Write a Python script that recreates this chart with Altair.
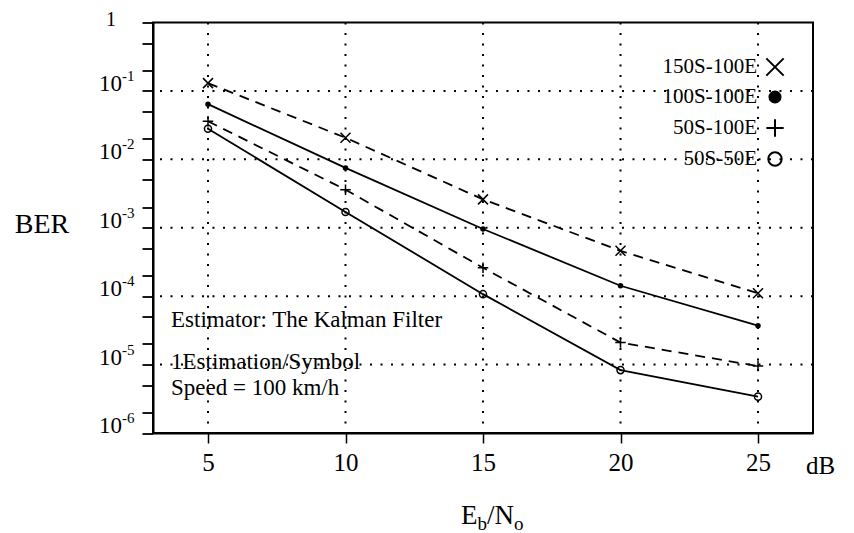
import altair as alt
import pandas as pd

# ---- data ----
snr = [5, 10, 15, 20, 25]
ber_150s_100e = [0.13, 0.0207, 0.0026, 4.6e-4, 1.1e-4]
ber_100s_100e = [0.064, 0.0075, 9.6e-4, 1.42e-4, 3.7e-5]
ber_50s_100e = [0.036, 0.0036, 2.6e-4, 2.1e-5, 9.5e-6]
ber_50s_50e = [0.028, 0.0017, 1.07e-4, 8.3e-6, 3.4e-6]

series_names = ["150S-100E", "100S-100E", "50S-100E", "50S-50E"]
x_ticks = [5, 10, 15, 20, 25]
decades = [1e-1, 1e-2, 1e-3, 1e-4, 1e-5]
y_tick_values = [1, 0.5, 0.2, 0.1, 0.05, 0.02, 0.01, 5e-3, 2e-3, 1e-3, 5e-4, 2e-4, 1e-4,
                 5e-5, 2e-5, 1e-5, 5e-6, 2e-6, 1e-6]
y_label_values = [1e-1, 1e-2, 1e-3, 1e-4, 1e-5, 1e-6]
y_label_sups = ["-1", "-2", "-3", "-4", "-5", "-6"]
annot_lines = ["Estimator: The Kalman Filter", "1Estimation/Symbol", "Speed = 100 km/h"]

FONT = "Liberation Serif"
W, H = 660, 410.5
OX, OY = 153, 22.5  # plot origin on page

rows = []
for name, vals in zip(series_names, [ber_150s_100e, ber_100s_100e, ber_50s_100e, ber_50s_50e]):
    for s, b in zip(snr, vals):
        rows.append({"series": name, "snr": s, "ber": b})
df = pd.DataFrame(rows)

xs = alt.Scale(domain=[3, 27], nice=False, zero=False)
ys = alt.Scale(type="log", domain=[1e-6, 1], nice=False)

xaxis = alt.Axis(values=x_ticks, tickSize=10, tickWidth=1.5, tickColor="black",
                 domainColor="black", domainWidth=2, labelFont=FONT, labelFontSize=25,
                 labelColor="black", labelPadding=7, grid=False, title=None)
yaxis = alt.Axis(values=y_tick_values, labels=False, tickSize=11, tickWidth=1.8,
                 tickColor="black", domainColor="black", domainWidth=2,
                 grid=False, title=None)

X = alt.X("snr:Q", scale=xs, axis=xaxis)
Y = alt.Y("ber:Q", scale=ys, axis=yaxis)

layers = []
grid_style = dict(color="black", strokeDash=[2, 8.5], strokeWidth=2)
layers.append(alt.Chart(pd.DataFrame({"snr": x_ticks})).mark_rule(**grid_style).encode(x=X))
layers.append(alt.Chart(pd.DataFrame({"ber": decades})).mark_rule(**grid_style).encode(y=Y))

# y tick labels as 10 with superscript exponent
ylab = pd.DataFrame({"ber": y_label_values, "base": ["10"] * len(y_label_values),
                     "sup": y_label_sups})
layers.append(alt.Chart(ylab).mark_text(align="right", baseline="alphabetic", font=FONT,
                                        fontSize=23, color="black")
              .encode(text="base:N", x=alt.value(-31), y=Y))
layers.append(alt.Chart(ylab).mark_text(align="left", baseline="alphabetic", font=FONT,
                                        fontSize=15, color="black", dy=-10)
              .encode(text="sup:N", x=alt.value(-31), y=Y))

XPATH = "M-1,-1L1,1M-1,1L1,-1"
PPATH = "M-1,0L1,0M0,-1L0,1"
styles = {
    "150S-100E": dict(dash=[10, 7], shape=XPATH, filled=False, size=100, lsize=300),
    "100S-100E": dict(dash=None, shape="circle", filled=True, size=30, lsize=170),
    "50S-100E": dict(dash=[10, 7], shape=PPATH, filled=False, size=110, lsize=300),
    "50S-50E": dict(dash=None, shape="circle", filled=False, size=50, lsize=180),
}

for name in series_names:
    st = styles[name]
    lk = dict(color="black", strokeWidth=1.8)
    if st["dash"]:
        lk["strokeDash"] = st["dash"]
    base = alt.Chart(df).transform_filter(alt.datum.series == name)
    layers.append(base.mark_line(**lk).encode(x=X, y=Y))
    layers.append(base.mark_point(shape=st["shape"], filled=st["filled"], size=st["size"],
                                  color="black", strokeWidth=1.5, opacity=1).encode(x=X, y=Y))

legend_y = [67, 97, 128, 159]
for name, ly in zip(series_names, legend_y):
    st = styles[name]
    one = alt.Chart(pd.DataFrame({"t": [name]}))
    layers.append(one.mark_text(align="right", baseline="middle", font=FONT, fontSize=21,
                                color="black").encode(text="t:N", x=alt.value(757 - OX),
                                                      y=alt.value(ly - OY)))
    layers.append(one.mark_point(shape=st["shape"], filled=st["filled"], size=st["lsize"],
                                 color="black", strokeWidth=2, opacity=1)
                  .encode(x=alt.value(775 - OX), y=alt.value(ly - OY)))

for txt, ty in zip(annot_lines, [320, 362, 388]):
    layers.append(alt.Chart(pd.DataFrame({"t": [txt]})).mark_text(
        align="left", baseline="middle", font=FONT, fontSize=23, color="black")
        .encode(text="t:N", x=alt.value(171 - OX), y=alt.value(ty - OY)))

def label(txt, x, y, size, align="left", baseline="middle"):
    return alt.Chart(pd.DataFrame({"t": [txt]})).mark_text(
        align=align, baseline=baseline, font=FONT, fontSize=size, color="black"
    ).encode(text="t:N", x=alt.value(x), y=alt.value(y))

layers.append(label("1", 116 - OX, 26 - OY, 20, align="right", baseline="alphabetic"))
layers.append(label("BER", 42 - OX, 225 - OY, 28, align="center"))
layers.append(label("dB", 806 - OX, 466 - OY, 25))
tx = 461 - OX
tb = 524 - OY
layers.append(label("E", tx, tb, 27, baseline="alphabetic"))
layers.append(label("b", tx + 16.5, tb + 6, 19, baseline="alphabetic"))
layers.append(label("/N", tx + 26, tb, 27, baseline="alphabetic"))
layers.append(label("o", tx + 53, tb + 6, 19, baseline="alphabetic"))

chart = alt.layer(*layers).properties(
    width=W, height=H,
    autosize=alt.AutoSizeParams(type="none"),
    padding={"left": OX - 8, "top": OY - 8, "right": 33, "bottom": 100},
).configure_view(stroke="black", strokeWidth=2)

chart.save("out.html", embed_options={"renderer": "svg", "actions": False})
